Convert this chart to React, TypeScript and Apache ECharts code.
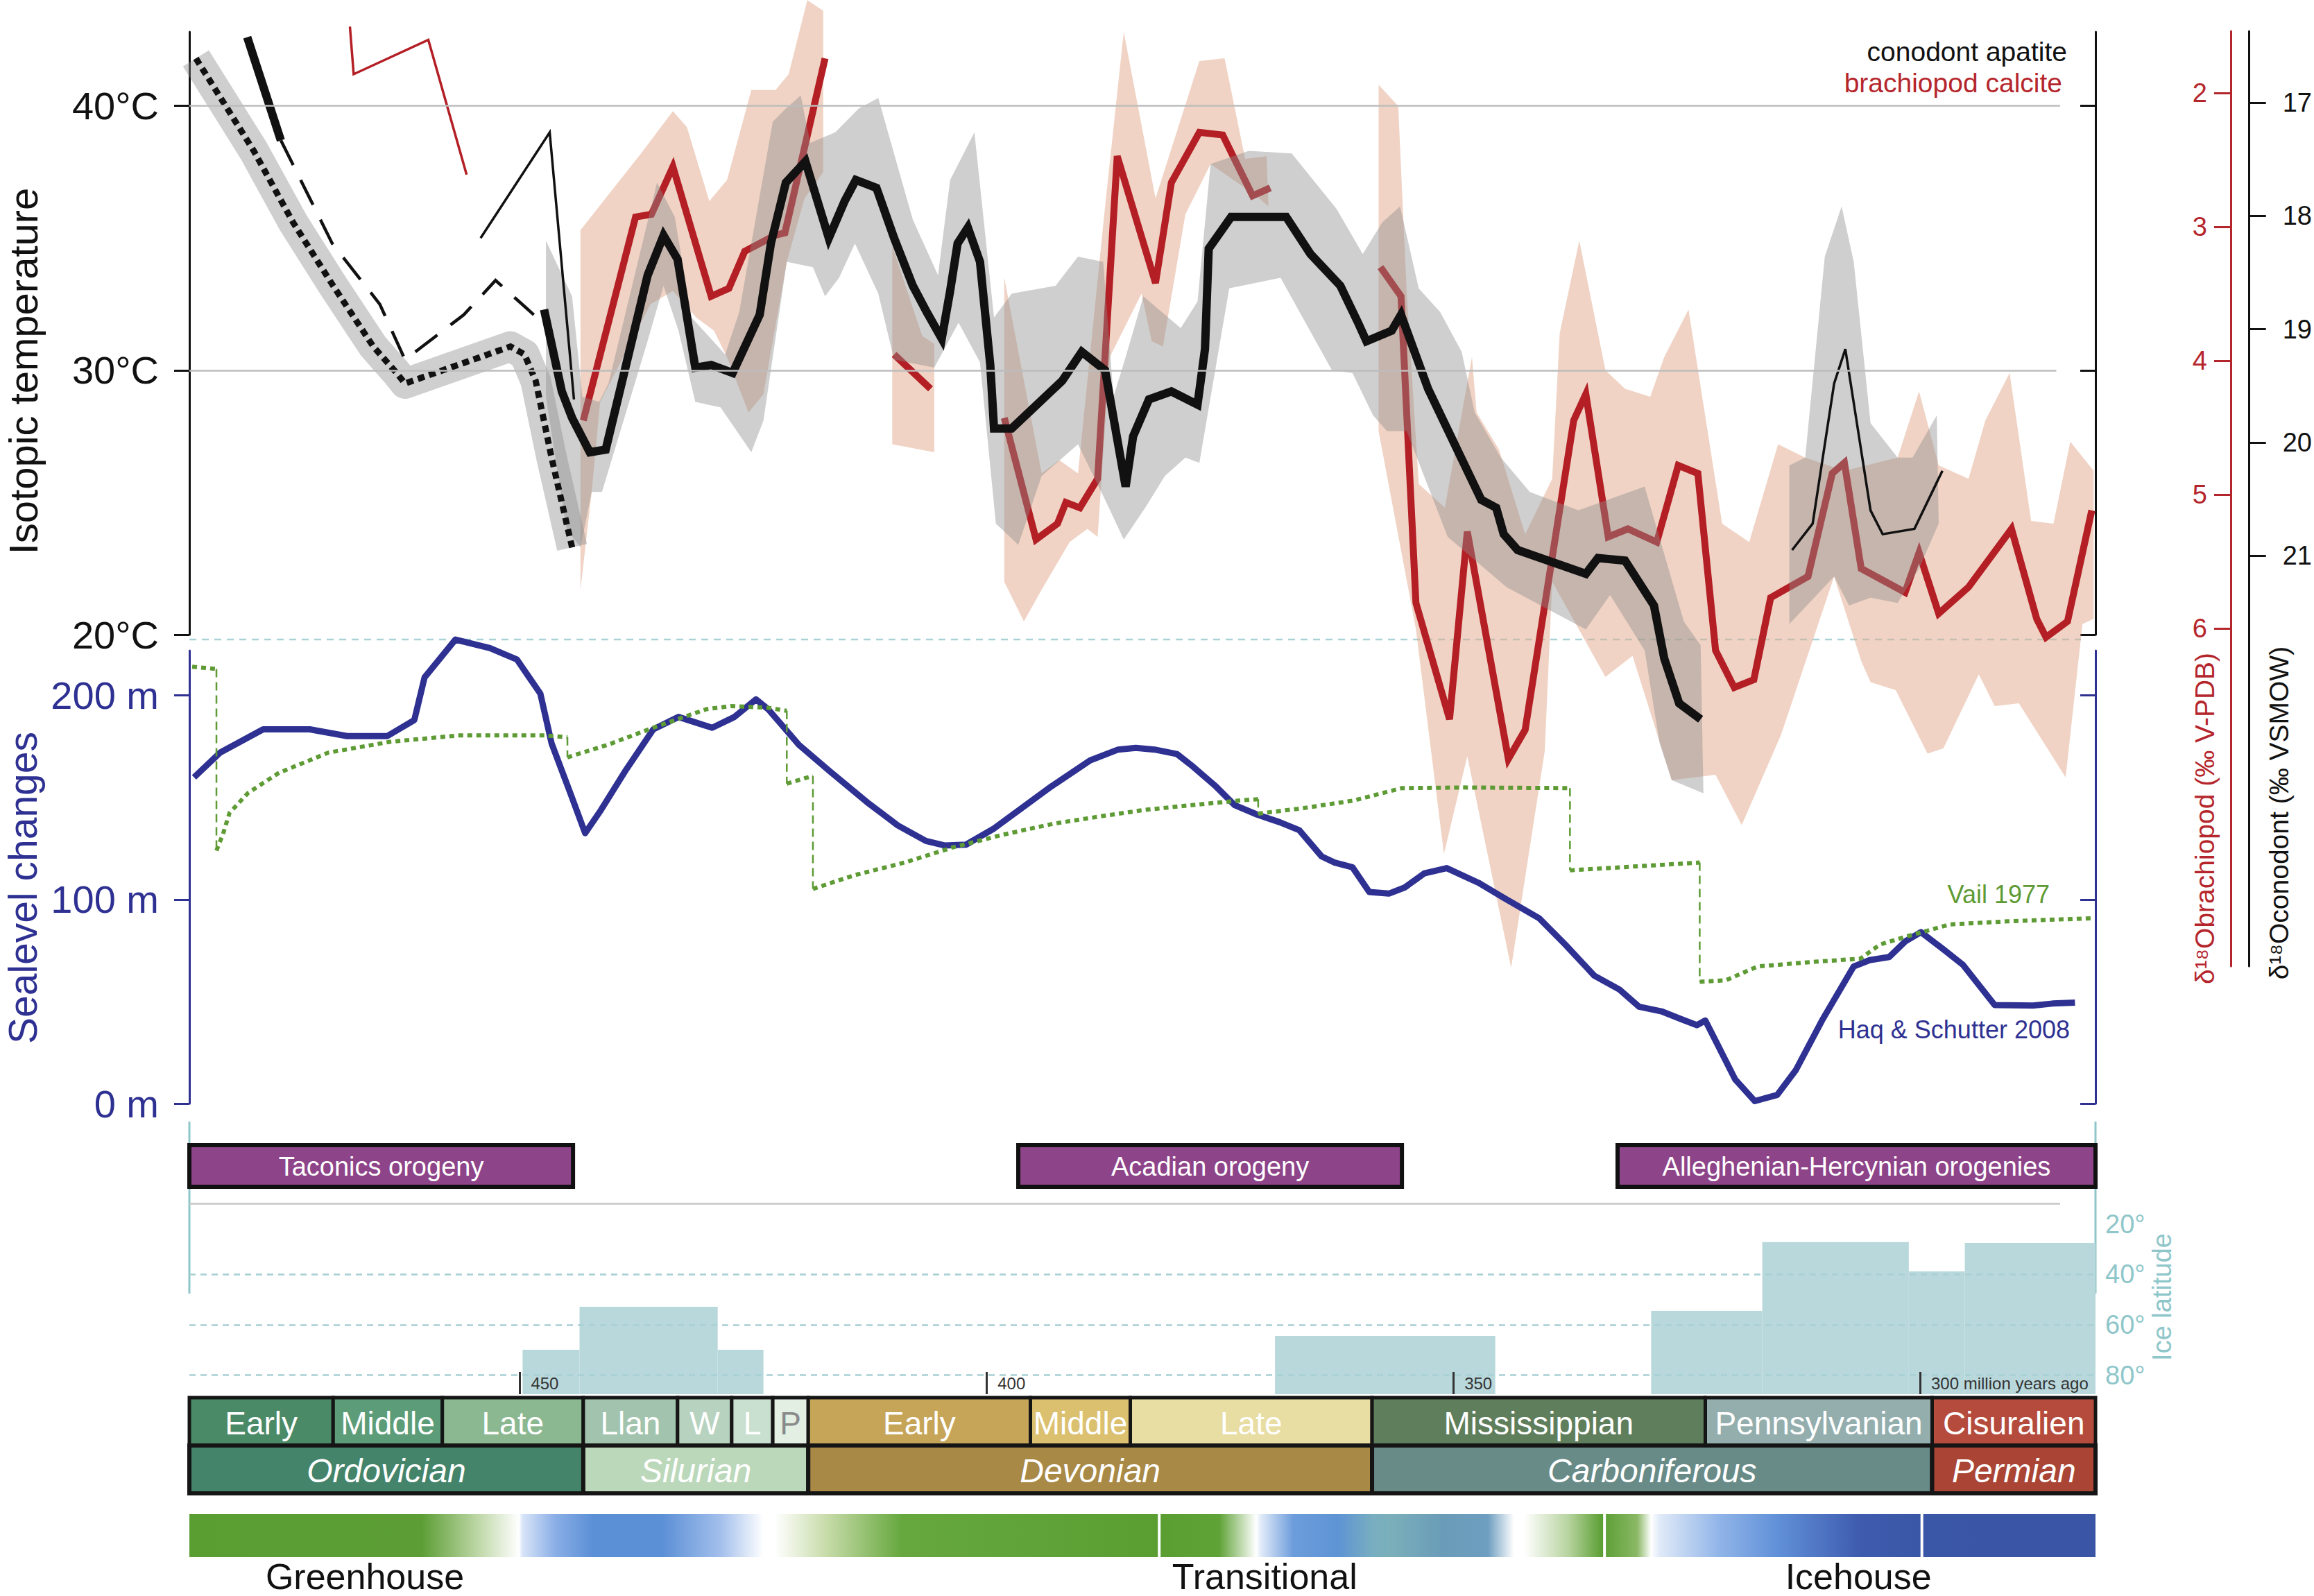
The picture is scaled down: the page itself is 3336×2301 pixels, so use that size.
import React, { useEffect, useRef } from 'react';
import * as echarts from 'echarts';

const FONT = "'Liberation Sans', Arial, Helvetica, sans-serif";

// ---------------- axes ----------------
const X_MIN = 281.2; // Ma (right edge)
const X_MAX = 485.4; // Ma (left edge)
const tempTicks = [20, 30, 40];
const seaTicks = [0, 100, 200];
const latTicks = [20, 40, 60, 80];
const maTicks = [450, 400, 350, 300];
const brachTicks = [2, 3, 4, 5, 6];
const conoTicks = [17, 18, 19, 20, 21];

// ---------------- isotopic temperature (Ma, °C) ----------------
const conodontMain = [
  [447.4, 32.3], [445.5, 29.2], [444.4, 28.2], [442.5, 26.9], [440.8, 27.0], [436.3, 33.6], [434.6, 35.1],
  [433.1, 34.2], [431.2, 30.1], [429.5, 30.2], [427.2, 29.9], [424.3, 32.1], [423.1, 34.8], [421.5, 37.1],
  [419.4, 37.9], [416.9, 35.0], [415.2, 36.4], [414.0, 37.2], [411.8, 36.9], [409.9, 35.0], [407.9, 33.2],
  [406.4, 32.2], [404.8, 31.2], [403.9, 33.0], [403.1, 34.8], [402.0, 35.4], [400.7, 34.1], [399.6, 30.2],
  [399.2, 27.8], [397.3, 27.8], [391.9, 29.6], [389.8, 30.7], [387.3, 30.0], [385.1, 25.6], [384.3, 27.5],
  [382.6, 28.9], [380.2, 29.2], [377.4, 28.7], [376.6, 30.8], [376.2, 34.6], [373.8, 35.8], [367.9, 35.8],
  [365.3, 34.4], [362.1, 33.2], [360.2, 31.8], [359.3, 31.1], [356.6, 31.5], [355.6, 32.1], [352.7, 29.3],
  [347.0, 25.1], [345.4, 24.8], [344.6, 23.8], [343.1, 23.2], [335.8, 22.3], [334.5, 22.9], [331.6, 22.8],
  [328.5, 21.1], [327.4, 19.1], [325.8, 17.4], [323.5, 16.8],
];
const conodontStart = [[479.2, 42.6], [475.6, 38.7]];
const conodontDashed = [[475.6, 38.7], [470.1, 34.8], [465.0, 32.5], [462.3, 30.4], [456.0, 32.1], [452.6, 33.4], [448.5, 32.1]];
const conodontThin = [[454.2, 35.0], [446.8, 39.0], [444.2, 28.9]];
const conodontDotted = [[484.7, 41.8], [478.5, 38.3], [474.3, 35.6], [470.0, 33.2], [465.7, 30.9], [463.2, 29.9], [462.3, 29.5], [451.0, 30.9], [449.5, 30.6], [448.3, 29.6], [446.6, 26.7], [444.4, 23.3]];
const conodontPenn = [[313.7, 23.2], [311.5, 24.2], [309.2, 29.5], [308.0, 30.8], [305.3, 24.7], [304.0, 23.8], [300.6, 24.0], [297.6, 26.2]];

const brachiopodThin = [[468.2, 43.0], [467.8, 41.2], [459.8, 42.5], [455.7, 37.4]];
const brachiopod1 = [[443.2, 28.1], [437.6, 35.8], [435.9, 35.9], [433.6, 37.7], [429.5, 32.8], [427.6, 33.1], [425.9, 34.5], [422.7, 35.1], [421.6, 35.2], [417.3, 41.8]];
const brachiopod2 = [[409.9, 30.6], [406.0, 29.3]];
const brachiopod3 = [[398.1, 28.2], [394.7, 23.6], [392.4, 24.2], [391.5, 25.0], [390.0, 24.8], [388.1, 25.9], [386.0, 38.1], [381.9, 33.3], [380.2, 37.1], [377.2, 39.0], [374.7, 38.9], [371.5, 36.6], [369.6, 36.9]];
const brachiopod4 = [
  [357.8, 33.9], [355.6, 32.8], [354.0, 21.2], [350.4, 16.8], [348.5, 23.9], [344.1, 15.3], [342.3, 16.4], [337.1, 28.1],
  [335.8, 29.1], [333.4, 23.7], [331.3, 24.0], [328.2, 23.5], [325.9, 26.4], [323.8, 26.1], [321.9, 19.4], [319.9, 18.0],
  [317.8, 18.3], [316.0, 21.4], [312.0, 22.2], [309.4, 26.1], [308.1, 26.5], [306.3, 22.5], [301.6, 21.6], [300.1, 23.1],
  [298.0, 20.8], [294.8, 21.8], [290.2, 24.0], [287.5, 20.6], [286.5, 19.9], [284.2, 20.5], [281.6, 24.7],
];

// uncertainty envelopes (upper edge, lower edge)
const pink1Upper = [[443.5, 35.3], [436.8, 38.3], [433.6, 39.8], [432.1, 39.2], [429.7, 36.4], [427.8, 37.2], [425.2, 40.6], [422.6, 40.6], [421.2, 41.2], [419.2, 44.0], [417.5, 43.6]];
const pink1Lower = [[443.5, 21.7], [442.3, 25.4], [441.4, 28.8], [436.0, 32.5], [433.6, 33.0], [431.1, 32.0], [429.2, 31.5], [427.8, 30.5], [425.5, 28.4], [423.9, 29.1], [421.4, 34.1], [419.5, 36.5], [417.5, 37.5]];
const pink2Upper = [[410.1, 34.7], [406.9, 31.3], [405.6, 31.0]];
const pink2Lower = [[410.1, 27.2], [405.6, 26.9]];
const pink3Upper = [[398.1, 33.5], [394.1, 26.1], [392.2, 26.6], [390.2, 26.1], [387.3, 36.2], [385.3, 42.8], [381.9, 36.5], [377.2, 41.7], [374.5, 41.8], [372.3, 38.0], [370.0, 38.1], [369.8, 36.2]];
const pink3Lower = [[398.1, 22.0], [396.0, 20.5], [394.1, 21.7], [391.1, 23.5], [389.2, 24.0], [388.1, 23.7], [386.8, 30.5], [383.4, 32.9], [382.3, 31.1], [381.1, 30.9], [378.7, 35.9], [376.0, 37.8], [371.1, 36.6], [369.8, 36.2]];
const pink4Upper = [
  [358.0, 40.8], [355.9, 40.0], [355.0, 33.0], [353.7, 25.7], [350.9, 24.8], [348.0, 30.5], [347.5, 28.4], [345.1, 27.0],
  [342.3, 23.8], [339.4, 25.9], [338.6, 31.4], [336.5, 34.9], [333.7, 30.0], [331.6, 29.3], [328.9, 29.0], [327.4, 30.5],
  [324.8, 32.3], [321.2, 24.2], [318.3, 23.5], [315.2, 27.2], [312.3, 26.7], [308.1, 26.2], [302.4, 26.7], [300.1, 29.2],
  [298.0, 26.4], [294.8, 25.9], [293.0, 28.1], [290.4, 29.9], [288.1, 24.3], [285.7, 24.2], [283.9, 27.3], [281.4, 26.2],
];
const pink4Lower = [
  [358.0, 27.7], [354.0, 20.2], [351.0, 11.7], [348.5, 15.4], [343.8, 7.4], [340.2, 15.6], [339.4, 22.0], [333.7, 18.4],
  [330.8, 19.2], [326.6, 14.5], [321.9, 14.7], [319.1, 12.8], [314.9, 16.2], [309.2, 22.2], [306.3, 19.0], [305.3, 18.2],
  [302.6, 17.9], [299.2, 15.5], [297.5, 15.7], [293.7, 18.5], [292.0, 17.3], [289.4, 17.4], [284.4, 14.6], [282.6, 20.4],
  [281.4, 20.6],
];
const grayMainUpper = [
  [447.2, 34.9], [444.4, 32.8], [443.3, 29.0], [441.5, 28.8], [440.5, 29.5], [435.3, 37.1], [433.4, 35.8], [431.6, 32.0],
  [428.0, 30.6], [426.5, 32.2], [422.9, 39.4], [421.5, 39.9], [419.9, 40.4], [418.9, 38.6], [416.2, 39.0], [413.7, 39.9],
  [411.6, 40.3], [407.9, 35.7], [405.2, 33.6], [403.9, 37.2], [401.3, 39.0], [399.2, 32.0], [397.3, 32.9], [392.6, 33.2],
  [390.2, 34.3], [387.5, 34.1], [386.4, 29.0], [385.1, 30.5], [383.2, 32.8], [379.2, 31.6], [377.4, 32.6], [376.0, 37.8],
  [371.9, 38.3], [367.3, 38.2], [362.5, 36.1], [359.7, 34.4], [357.6, 35.6], [355.7, 36.2], [353.7, 33.1], [351.4, 32.2],
  [349.1, 30.7], [347.7, 28.4], [344.9, 26.7], [341.8, 25.4], [336.6, 24.7], [329.5, 25.6], [325.3, 20.5], [323.5, 19.6],
  [323.2, 14.0],
];
const grayMainLower = [
  [447.2, 29.0], [445.0, 24.0], [443.5, 23.3], [442.3, 25.4], [441.2, 25.4], [436.4, 31.0], [434.6, 33.2], [433.0, 31.5],
  [431.2, 28.8], [428.5, 28.6], [425.2, 26.9], [423.9, 28.1], [421.4, 34.1], [418.6, 33.9], [417.3, 32.8], [415.8, 33.5],
  [414.1, 34.8], [411.6, 32.9], [409.9, 30.4], [405.6, 30.1], [403.0, 31.8], [400.7, 30.3], [399.0, 24.2], [396.6, 23.4],
  [394.1, 26.0], [390.2, 27.2], [387.3, 25.1], [385.3, 23.6], [383.0, 24.8], [380.9, 26.0], [378.7, 26.7], [377.2, 26.5],
  [374.0, 33.1], [368.5, 33.5], [363.0, 30.0], [360.8, 29.9], [358.6, 28.3], [357.1, 27.7], [355.0, 27.7], [350.6, 23.7],
  [344.3, 21.8], [335.8, 20.2], [333.2, 21.5], [329.5, 19.4], [327.9, 15.9], [326.6, 14.5], [323.2, 14.0],
];
const grayPennUpper = [[314.0, 26.4], [312.3, 26.7], [310.2, 34.3], [308.4, 36.2], [307.1, 34.1], [305.3, 28.0], [302.4, 26.7], [300.8, 26.7], [298.2, 28.3], [298.0, 24.2]];
const grayPennLower = [[314.0, 20.4], [309.2, 22.2], [307.6, 21.1], [305.3, 21.4], [302.4, 21.2], [300.1, 22.5], [298.0, 24.2]];

// ---------------- sea level (Ma, m) ----------------
const haqSchutter = [
  [484.9, 159.9], [482.1, 172.0], [477.5, 183.4], [472.5, 183.4], [468.5, 180.1], [464.2, 180.1], [461.3, 188.0],
  [460.2, 208.9], [456.9, 227.4], [453.2, 223.2], [450.3, 217.6], [447.8, 200.9], [446.6, 176.6], [444.6, 152.3],
  [443.0, 132.5], [441.3, 143.9], [438.6, 163.7], [435.7, 183.4], [433.0, 189.5], [429.4, 184.2], [427.0, 189.5],
  [424.7, 198.1], [423.4, 193.3], [420.1, 175.8], [416.8, 162.9], [412.8, 147.7], [409.5, 136.3], [406.5, 128.7],
  [404.5, 126.5], [402.2, 126.9], [399.2, 134.8], [393.1, 155.3], [388.9, 168.2], [385.9, 173.5], [384.0, 174.3],
  [382.0, 173.5], [379.6, 171.3], [377.9, 165.2], [375.4, 155.3], [373.4, 146.2], [371.0, 141.6], [368.6, 137.9],
  [366.5, 134.0], [364.1, 121.1], [362.7, 118.1], [360.8, 115.8], [359.0, 103.7], [356.9, 102.9], [355.2, 105.9],
  [353.1, 112.8], [350.7, 115.4], [347.3, 108.2], [344.5, 100.6], [340.8, 90.8], [338.0, 77.9], [334.9, 62.7],
  [332.2, 55.9], [330.1, 47.5], [327.7, 45.2], [325.6, 41.4], [323.9, 38.4], [323.0, 40.7], [321.9, 30.8],
  [319.8, 11.8], [317.7, 1.2], [315.3, 4.2], [313.3, 16.4], [310.5, 40.7], [307.1, 67.2], [305.4, 70.3],
  [303.3, 71.8], [301.6, 79.4], [299.9, 84.0], [297.5, 75.6], [295.4, 68.0], [292.0, 48.3], [287.9, 48.0],
  [285.8, 49.0], [283.4, 49.5],
];
const vailSegments = [
  [[485.1, 214.1], [482.5, 213.0]],
  [[482.5, 124.0], [481.8, 132.0], [481.1, 142.4], [479.1, 152.3], [475.8, 162.1], [470.5, 172.0], [463.9, 177.3], [456.6, 180.4], [447.3, 180.4], [444.9, 179.6]],
  [[444.9, 169.7], [440.6, 175.8], [435.3, 184.9], [430.0, 193.3], [427.4, 194.8], [423.4, 194.0], [421.4, 192.5]],
  [[421.4, 156.8], [418.6, 160.6]],
  [[418.6, 105.2], [414.1, 112.0], [408.8, 118.1], [403.5, 125.7], [398.2, 131.8], [392.9, 137.1], [387.6, 140.9], [383.1, 143.9], [379.9, 145.4], [373.0, 148.5], [370.9, 149.2]],
  [[370.9, 142.1], [366.2, 144.7], [360.7, 148.5], [355.5, 154.6], [349.0, 154.9], [337.5, 154.6]],
  [[337.5, 114.3], [323.6, 118.1]],
  [[323.6, 59.7], [320.8, 60.4], [317.4, 67.2], [311.2, 69.5], [306.4, 71.0], [304.3, 77.9], [301.6, 81.7], [296.8, 87.8], [290.6, 89.3], [281.7, 90.8]],
];

// ---------------- orogenies ----------------
const orogenyNames = ['Taconics orogeny', 'Acadian orogeny', 'Alleghenian-Hercynian orogenies'];
const orogenyStart = [485.4, 396.6, 332.4];
const orogenyEnd = [444.3, 355.5, 281.2];

// ---------------- ice latitude (deg) ----------------
const iceStart = [449.7, 443.6, 428.8, 369.1, 328.8, 316.9, 301.2, 295.2];
const iceEnd = [443.6, 428.8, 423.9, 345.5, 316.9, 301.2, 295.2, 281.2];
const iceLat = [69.9, 52.8, 69.9, 64.4, 54.5, 27.2, 38.8, 27.5];

// ---------------- stratigraphy ----------------
const epochNames = ['Early', 'Middle', 'Late', 'Llan', 'W', 'L', 'P', 'Early', 'Middle', 'Late', 'Mississippian', 'Pennsylvanian', 'Cisuralien'];
const epochStart = [485.4, 470.0, 458.3, 443.2, 433.1, 427.3, 422.9, 419.1, 395.3, 384.6, 358.7, 323.0, 298.7];
const epochEnd = [470.0, 458.3, 443.2, 433.1, 427.3, 422.9, 419.1, 395.3, 384.6, 358.7, 323.0, 298.7, 281.2];
const epochColors = ['#4B8A67', '#5D9C78', '#8BB890', '#A2C4AE', '#B7D3BF', '#C9DFCF', '#E3EFE3', '#C6A559', '#DBC06F', '#E8DDA3', '#5F7E5C', '#94AEAE', '#B54B3C'];
const periodNames = ['Ordovician', 'Silurian', 'Devonian', 'Carboniferous', 'Permian'];
const periodStart = [485.4, 443.2, 419.1, 358.7, 298.7];
const periodEnd = [443.2, 419.1, 358.7, 298.7, 281.2];
const periodColors = ['#44846A', '#BCD8BB', '#A98946', '#688B88', '#AA4535'];

// ---------------- climate mode band ----------------
const climateMa = [485.4, 460.5, 454.4, 450.1, 449.7, 446.2, 442.1, 434.8, 428.4, 423.9, 422.7, 417.2, 409.1, 381.6, 375.1, 371.1, 370.6, 367.1, 362.3, 358.7, 356.7, 351.1, 346.3, 343.5, 342.4, 337.7, 334.0, 330.3, 328.8, 327.9, 321.4, 315.2, 306.4, 300.0, 281.2];
const climateColors = ['#5A9E32', '#5C9E35', '#BFD8A8', '#FFFFFF', '#D8E4F8', '#8AAEE6', '#5B8FD6', '#5B8FD6', '#A4C0EC', '#FFFFFF', '#FFFFFF', '#C8DCAA', '#66A83E', '#5A9E32', '#5FA236', '#FFFFFF', '#E0EAF8', '#6C9CDC', '#5E94D4', '#78AEC0', '#7AAFBA', '#6A9CB8', '#6E9EC0', '#FFFFFF', '#FFFFFF', '#B8D4A0', '#5A9E32', '#8AB865', '#FFFFFF', '#E0EAF8', '#90B4E8', '#6090D8', '#3E5BAE', '#3A56A6', '#3A54A6'];
const climateBreaks = [381.5, 333.8, 299.8];
const climateNames = ['Greenhouse', 'Transitional', 'Icehouse'];
const climateLabelMa = [466.6, 370.2, 306.6];

const RED = '#B31F25';
const BLUE = '#2E3192';
const GREEN = '#5E9B35';
const TEAL = '#8EC6CA';
const PINK = 'rgba(226,168,138,0.5)';
const GRAY = 'rgba(140,140,140,0.42)';

function line(data: number[][], color: string, width: number, z: number, type: any = 'solid', grid = 0, yIdx = 0, extra: any = {}) {
  return {
    type: 'line', xAxisIndex: grid, yAxisIndex: yIdx, data, symbol: 'none', clip: false, silent: true, z,
    lineStyle: { color, width, type, cap: 'butt', join: 'miter' }, ...extra,
  };
}

function bandSeries(bands: number[][][][], fill: string, z: number) {
  return {
    type: 'custom', xAxisIndex: 0, yAxisIndex: 0, z, silent: true, clip: false,
    data: bands.map((b, i) => [b[0][0][0], b[0][0][1], i]),
    renderItem: (params: any, api: any) => {
      const b = bands[params.dataIndex];
      const pts = b[0].concat(b[1].slice().reverse()).map((p) => api.coord(p));
      return { type: 'polygon', shape: { points: pts }, style: { fill } };
    },
  };
}

export default function App() {
  const ref = useRef<HTMLDivElement>(null);
  useEffect(() => {
    if (!ref.current) return;
    const chart = echarts.init(ref.current, null, { renderer: 'svg' });
    const gridL = 273, gridR = 315;
    const grids = [
      { left: gridL, right: gridR, top: 46, height: 869 },
      { left: gridL, right: gridR, top: 938, height: 653 },
      { left: gridL, right: gridR, top: 1651, height: 60 },
      { left: gridL, right: gridR, top: 1692, height: 318 },
      { left: gridL, right: gridR, top: 2015, height: 138 },
      { left: gridL, right: gridR, top: 2183, height: 62 },
      { left: 3216, width: 31, top: 45, height: 1348 },
    ];
    const xAxes: any[] = [0, 1, 2, 3, 4, 5].map((g) => ({
      gridIndex: g, type: 'value', min: X_MIN, max: X_MAX, inverse: true, show: g === 3, position: 'bottom', z: 10,
      axisLine: { show: false, onZero: false }, splitLine: { show: false },
      axisTick: g === 3 ? { show: true, inside: true, length: 32, lineStyle: { color: '#333', width: 3 }, customValues: maTicks } : { show: false },
      axisLabel: g === 3 ? {
        show: true, inside: true, customValues: maTicks, margin: 16, fontSize: 24, color: '#333',
        align: 'left', verticalAlign: 'middle', padding: [0, 0, 0, 16], fontFamily: FONT, hideOverlap: false,
        showMinLabel: true, showMaxLabel: true,
        formatter: (v: number) => (v === 300 ? '300 million years ago' : String(v)),
      } : { show: false },
    }));
    xAxes.push({ gridIndex: 6, type: 'value', min: 0, max: 1, show: false });

    const blackAxis = { show: true, lineStyle: { color: '#111', width: 3 } };
    const yAxes: any[] = [
      { gridIndex: 0, type: 'value', min: 20, max: 42.8, position: 'left', axisLine: blackAxis,
        axisTick: { show: true, length: 22, lineStyle: { color: '#111', width: 3 }, customValues: tempTicks },
        axisLabel: { customValues: tempTicks, formatter: '{value}°C', fontSize: 56, color: '#111', margin: 44, fontFamily: FONT },
        splitLine: { show: false } },
      { gridIndex: 0, type: 'value', min: 20, max: 42.8, position: 'right', axisLine: blackAxis,
        axisTick: { show: true, inside: true, length: 22, lineStyle: { color: '#111', width: 3 }, customValues: tempTicks },
        axisLabel: { show: false }, splitLine: { show: false } },
      { gridIndex: 1, type: 'value', min: 0, max: 222, position: 'left', axisLine: { show: true, lineStyle: { color: BLUE, width: 3 } },
        axisTick: { show: true, length: 22, lineStyle: { color: BLUE, width: 3 }, customValues: seaTicks },
        axisLabel: { customValues: seaTicks, formatter: '{value} m', fontSize: 56, color: BLUE, margin: 44, fontFamily: FONT },
        splitLine: { show: false } },
      { gridIndex: 1, type: 'value', min: 0, max: 222, position: 'right', axisLine: { show: true, lineStyle: { color: BLUE, width: 3 } },
        axisTick: { show: true, inside: true, length: 22, lineStyle: { color: BLUE, width: 3 }, customValues: seaTicks },
        axisLabel: { show: false }, splitLine: { show: false } },
      { gridIndex: 2, type: 'value', min: 0, max: 1, show: false },
      { gridIndex: 3, type: 'value', min: 0, max: 87.5, inverse: true, position: 'right', axisLine: { show: false },
        axisTick: { show: false }, splitLine: { show: false },
        axisLabel: { customValues: latTicks, formatter: '{value}°', fontSize: 38, color: TEAL, margin: 14, fontFamily: FONT } },
      { gridIndex: 4, type: 'value', min: 0, max: 2, show: false },
      { gridIndex: 5, type: 'value', min: 0, max: 1, show: false },
      { gridIndex: 6, type: 'value', min: 1.539, max: 8.523, inverse: true, position: 'left',
        axisLine: { show: true, lineStyle: { color: '#B5262C', width: 3 } },
        axisTick: { show: true, length: 24, lineStyle: { color: '#B5262C', width: 3 }, customValues: brachTicks },
        axisLabel: { customValues: brachTicks, fontSize: 38, color: '#B5262C', margin: 34, fontFamily: FONT },
        splitLine: { show: false } },
      { gridIndex: 6, type: 'value', min: 16.369, max: 24.626, inverse: true, position: 'right',
        axisLine: { show: true, lineStyle: { color: '#111', width: 3 } },
        axisTick: { show: true, length: 24, lineStyle: { color: '#111', width: 3 }, customValues: conoTicks },
        axisLabel: { customValues: conoTicks, fontSize: 38, color: '#111', margin: 48, fontFamily: FONT },
        splitLine: { show: false } },
    ];

    const mlBase = { silent: true, symbol: ['none', 'none'], label: { show: false }, animation: false };
    const series: any[] = [];
    // gridlines of the temperature panel
    series.push({
      type: 'line', xAxisIndex: 0, yAxisIndex: 0, data: [[X_MAX, 30]], symbol: 'none', z: 0, silent: true, lineStyle: { width: 0 },
      markLine: { ...mlBase, lineStyle: { color: '#BDBDBD', width: 2.5, type: 'solid' },
        data: [[{ coord: [X_MAX, 40] }, { coord: [285.0, 40] }], [{ coord: [X_MAX, 30] }, { coord: [285.4, 30] }]] },
    });
    series.push(bandSeries([[pink1Upper, pink1Lower], [pink2Upper, pink2Lower], [pink3Upper, pink3Lower], [pink4Upper, pink4Lower]], PINK, 1));
    series.push(line(brachiopodThin, RED, 3.5, 2));
    [brachiopod1, brachiopod2, brachiopod3, brachiopod4].forEach((d) => series.push(line(d, RED, 10, 2)));
    series.push(bandSeries([[grayMainUpper, grayMainLower], [grayPennUpper, grayPennLower]], GRAY, 3));
    series.push(line(conodontDotted, GRAY, 44, 3, 'solid', 0, 0, { lineStyle: { color: GRAY, width: 44, join: 'round', cap: 'butt' } }));
    series.push(line(conodontDotted, '#111', 9, 4, [10, 7]));
    series.push(line(conodontStart, '#111', 12, 4));
    series.push(line(conodontDashed, '#111', 4.5, 4, [40, 24]));
    series.push(line(conodontThin, '#111', 3.5, 4));
    series.push(line(conodontMain, '#111', 12, 4));
    series.push(line(conodontPenn, '#111', 3.5, 4));

    // sea level
    series.push(line(haqSchutter, BLUE, 9, 3, 'solid', 1, 2, { lineStyle: { color: BLUE, width: 9, join: 'round' } }));
    vailSegments.forEach((seg, i) => {
      series.push(line(seg, GREEN, 6, 4, [7, 6], 1, 2));
      if (i < vailSegments.length - 1) {
        const next = vailSegments[i + 1];
        series.push(line([seg[seg.length - 1], next[0]], GREEN, 2.5, 4, [12, 7], 1, 2));
      }
    });

    // orogenies
    series.push({
      type: 'custom', xAxisIndex: 2, yAxisIndex: 4, silent: true, z: 5,
      data: orogenyNames.map((n, i) => [orogenyStart[i], 1, i]),
      renderItem: (params: any, api: any) => {
        const i = params.dataIndex;
        const a = api.coord([orogenyStart[i], 1]);
        const b = api.coord([orogenyEnd[i], 0]);
        return {
          type: 'group', children: [
            { type: 'rect', shape: { x: a[0], y: a[1], width: b[0] - a[0], height: b[1] - a[1] }, style: { fill: '#8E4489', stroke: '#111', lineWidth: 6 } },
            { type: 'text', style: { text: orogenyNames[i], x: (a[0] + b[0]) / 2, y: (a[1] + b[1]) / 2 + 1, fill: '#fff', fontSize: 38, fontFamily: FONT, align: 'center', verticalAlign: 'middle' } },
          ],
        };
      },
    });

    // ice latitude
    series.push({
      type: 'custom', xAxisIndex: 3, yAxisIndex: 5, silent: true, z: 1,
      data: iceLat.map((l, i) => [iceStart[i], l]),
      renderItem: (params: any, api: any) => {
        const i = params.dataIndex;
        const a = api.coord([iceStart[i], iceLat[i]]);
        const b = api.coord([iceEnd[i], 87.5]);
        return { type: 'rect', shape: { x: a[0], y: a[1], width: b[0] - a[0], height: b[1] - a[1] }, style: { fill: '#B9D8DC' } };
      },
    });
    series.push({
      type: 'line', xAxisIndex: 3, yAxisIndex: 5, data: [[X_MAX, 40]], symbol: 'none', z: 2, silent: true, lineStyle: { width: 0 },
      markLine: { ...mlBase, data: [
        [{ coord: [X_MAX, 11.8], lineStyle: { color: '#C4C4C4', width: 2.5, type: 'solid' } }, { coord: [285.0, 11.8] }],
        ...[40, 60, 80].map((v) => [{ coord: [X_MAX, v], lineStyle: { color: '#A8CFD3', width: 2.5, type: [9, 7] } }, { coord: [X_MIN, v] }]),
      ] },
    });

    // stratigraphic table
    const cells: any[] = [];
    epochNames.forEach((n, i) => cells.push({ n, s: epochStart[i], e: epochEnd[i], c: epochColors[i], row: 1, italic: false, tc: n === 'P' ? '#8A8A8A' : '#FFFFFF' }));
    periodNames.forEach((n, i) => cells.push({ n, s: periodStart[i], e: periodEnd[i], c: periodColors[i], row: 0, italic: true, tc: '#FFFFFF' }));
    series.push({
      type: 'custom', xAxisIndex: 4, yAxisIndex: 6, silent: true, z: 6,
      data: cells.map((c, i) => [c.s, c.row, i]),
      renderItem: (params: any, api: any) => {
        const c = cells[params.dataIndex];
        const a = api.coord([c.s, c.row + 1]);
        const b = api.coord([c.e, c.row]);
        return {
          type: 'group', children: [
            { type: 'rect', shape: { x: a[0], y: a[1], width: b[0] - a[0], height: b[1] - a[1] }, style: { fill: c.c, stroke: '#151515', lineWidth: c.italic ? 6 : 5 } },
            { type: 'text', style: { text: c.n, x: (a[0] + b[0]) / 2, y: (a[1] + b[1]) / 2 + 2, fill: c.tc, fontSize: c.italic ? 48 : 46, fontStyle: c.italic ? 'italic' : 'normal', fontFamily: FONT, align: 'center', verticalAlign: 'middle' } },
          ],
        };
      },
    });

    // climate band
    series.push({
      type: 'custom', xAxisIndex: 5, yAxisIndex: 7, silent: true, z: 2,
      data: [[X_MAX, 0]],
      renderItem: (params: any, api: any) => {
        const a = api.coord([X_MAX, 1]);
        const b = api.coord([X_MIN, 0]);
        const w = b[0] - a[0];
        const stops = climateMa.map((m, i) => ({ offset: Math.min(1, Math.max(0, (api.coord([m, 0])[0] - a[0]) / w)), color: climateColors[i] }));
        const children: any[] = [
          { type: 'rect', shape: { x: a[0], y: a[1], width: w, height: b[1] - a[1] }, style: { fill: { type: 'linear', x: 0, y: 0, x2: 1, y2: 0, colorStops: stops } } },
        ];
        climateBreaks.forEach((m) => {
          const p = api.coord([m, 1]);
          const q = api.coord([m, 0]);
          children.push({ type: 'line', shape: { x1: p[0], y1: p[1], x2: q[0], y2: q[1] }, style: { stroke: '#fff', lineWidth: 4 } });
        });
        climateNames.forEach((n, i) => {
          const p = api.coord([climateLabelMa[i], 0]);
          children.push({ type: 'text', style: { text: n, x: p[0], y: p[1] + 54, fill: '#111', fontSize: 52, fontFamily: FONT, align: 'center', verticalAlign: 'bottom' } });
        });
        return { type: 'group', children };
      },
    });

    const txt = (text: string, x: number, y: number, size: number, fill: string, align = 'center', rot = 0) => ({
      type: 'text', x, y, rotation: rot, silent: true,
      style: { text, fontSize: size, fill, fontFamily: FONT, align, verticalAlign: 'middle' },
    });
    const graphic: any[] = [
      txt('Isotopic temperature', 33, 535, 58, '#111', 'center', Math.PI / 2),
      txt('Sealevel changes', 33, 1280, 57, BLUE, 'center', Math.PI / 2),
      txt('conodont apatite', 2980, 74, 39, '#111', 'right'),
      txt('brachiopod calcite', 2973, 119, 39, '#B5262C', 'right'),
      txt('Vail 1977', 2955, 1289, 36, GREEN, 'right'),
      txt('Haq & Schutter 2008', 2984, 1484, 36, BLUE, 'right'),
      txt('δ¹⁸Obrachiopod (‰ V-PDB)', 3178, 1180, 39, '#B5262C', 'center', Math.PI / 2),
      txt('δ¹⁸Oconodont (‰ VSMOW)', 3285, 1172, 39, '#111', 'center', Math.PI / 2),
      txt('Ice latitude', 3117, 1870, 38, TEAL, 'center', Math.PI / 2),
      { type: 'line', silent: true, shape: { x1: 273, y1: 922, x2: 3000, y2: 922 }, style: { stroke: '#A8D2D6', lineWidth: 2.5, lineDash: [10, 8] } },
      { type: 'line', silent: true, shape: { x1: 273, y1: 1617, x2: 273, y2: 1865 }, style: { stroke: TEAL, lineWidth: 3 } },
      { type: 'line', silent: true, shape: { x1: 3021, y1: 1617, x2: 3021, y2: 1865 }, style: { stroke: TEAL, lineWidth: 3 } },
    ];

    chart.setOption({
      animation: false,
      backgroundColor: '#ffffff',
      textStyle: { fontFamily: FONT },
      grid: grids,
      xAxis: xAxes,
      yAxis: yAxes,
      series,
      graphic,
    });
    return () => chart.dispose();
  }, []);
  return <div ref={ref} style={{ position: 'absolute', left: 0, top: 0, width: 3336, height: 2301, background: '#fff' }} />;
}
